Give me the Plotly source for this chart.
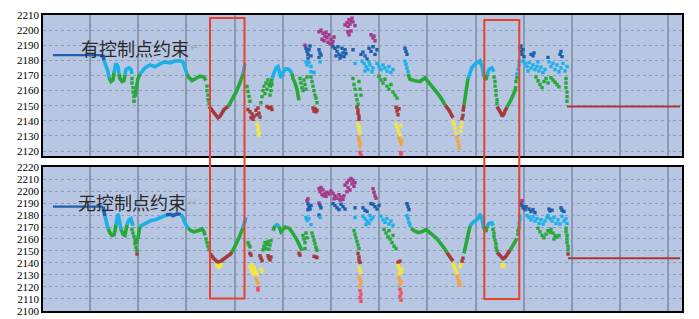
import plotly.graph_objects as go
from plotly.subplots import make_subplots

# ---------------- colour classes by elevation ----------------
BIN_EDGES = [2120, 2130, 2140, 2150, 2170, 2180, 2190]
BIN_COLORS = ["#ec4f5e", "#f2a53f", "#f5e63c", "#a63a3a",
              "#27a838", "#1ab0e8", "#1f5fae", "#a5398a"]

Y_TICKS_TOP = [2120, 2130, 2140, 2150, 2160, 2170, 2180, 2190, 2200, 2210]
Y_TICKS_BOT = [2100, 2110, 2120, 2130, 2140, 2150, 2160, 2170, 2180, 2190, 2200, 2210, 2220]

LABEL_TOP = "有控制点约束"
LABEL_BOT = "无控制点约束"

# ---------------- top panel (with control points) ----------------
TOP_START = [(10, 2183.5), (60, 2183.5)]
TOP_END = [(524, 2149.5), (637, 2149.5)]
TOP_LINES = [
    [(60, 2183.5), (61, 2180), (63, 2176.5), (65, 2172.5), (66, 2168.5), (68, 2166), (70, 2167), (71, 2172),
     (73, 2178), (75, 2176), (76, 2171), (77, 2168), (79, 2166), (81, 2166.5), (82, 2170.5), (83, 2174),
     (86, 2175), (88, 2174), (89, 2171)],
    [(92, 2156), (93, 2160), (94, 2164), (95, 2168), (97, 2171), (102, 2175), (107, 2177), (112, 2175.8),
     (117, 2177.7), (122, 2179), (127, 2178.4), (132, 2179.6), (137, 2179.8), (140, 2179), (142, 2175),
     (144, 2171), (146, 2168.6), (149, 2166.6), (153, 2168), (157, 2169.5), (161, 2169), (163, 2166.6)],
    [(166, 2149.5), (168, 2148), (170, 2146.5), (172, 2144.5), (175, 2142), (177, 2143), (179, 2145.5),
     (181, 2147.5), (183, 2148.5), (185, 2149.3), (187, 2151.5), (190, 2155), (193, 2159), (196, 2163.5),
     (198, 2167), (200, 2171), (201, 2175), (202, 2178)],
    [(227, 2162), (229, 2168), (231, 2172), (233, 2175), (235, 2176), (237, 2172), (238, 2168.5), (240, 2172),
     (243, 2174.5), (246, 2174), (249, 2171.5), (250, 2168), (252, 2165), (254, 2161), (255, 2157), (256, 2153.5)],
    [(365, 2171), (367, 2167.5), (372, 2166.5), (377, 2166), (382, 2168.5), (385, 2166), (388, 2164),
     (392, 2161), (396, 2157), (400, 2153), (402, 2150.5), (404, 2149), (406, 2147), (408, 2144.5), (410, 2142)],
    [(420, 2146), (421, 2150.5), (422, 2155), (423, 2160), (424, 2164), (425, 2168), (427, 2172), (429, 2175.5),
     (432, 2177.5), (435, 2179), (437, 2179.7), (439, 2176), (440, 2172), (441, 2169), (443, 2167),
     (444, 2170.5), (446, 2174), (449, 2175), (451, 2172.5)],
    [(454, 2149.5), (456, 2147.5), (458, 2145), (459, 2143), (461, 2144.5), (462, 2146.5), (464, 2149),
     (466, 2151), (468, 2154), (470, 2157), (472, 2160), (473, 2163)],
]
TOP_DOTS = [
    (89, 2168), (89, 2165), (90, 2162), (90, 2159), (91, 2156), (91, 2153),
    (164, 2163), (164, 2160), (165, 2157), (165, 2154), (166, 2151.5),
    (204, 2162.7), (205, 2159.4), (206, 2156.2), (207, 2153),
    (205, 2147.5), (207, 2146), (209, 2144.5), (211, 2143), (208, 2142), (210, 2141), (213, 2147), (215, 2148.5),
    (216, 2145), (217, 2142.5), (214, 2144),
    (214, 2138), (215, 2136), (215, 2134), (216, 2132), (216, 2130.5),
    (218, 2152), (219, 2156), (220, 2160), (221, 2163), (223, 2165), (225, 2167), (222, 2158), (224, 2161),
    (226, 2164), (227, 2157), (228, 2160), (229, 2164),
    (224, 2149.5), (226, 2148.5), (228, 2149), (229, 2147.5),
    (257, 2168), (258, 2165), (259, 2162), (260, 2160), (261, 2167), (262, 2164), (263, 2161), (264, 2169),
    (262, 2190), (263, 2188), (264, 2186), (265, 2184), (266, 2187), (267, 2189.5), (268, 2183), (265, 2181.5),
    (263, 2179), (264, 2177), (266, 2178.5), (268, 2176), (268, 2172.5), (271, 2172),
    (268, 2169), (269, 2166), (270, 2163), (271, 2160), (272, 2157), (273, 2155), (274, 2152),
    (270, 2148.5), (272, 2148), (274, 2147), (271, 2146.5), (273, 2146),
    (276, 2187), (277, 2185), (278, 2183.5), (276, 2182), (277, 2179),
    (276, 2199), (278, 2200), (280, 2198), (282, 2196), (279, 2194), (281, 2193), (284, 2195), (286, 2197),
    (288, 2194), (290, 2192.5), (283, 2198.5), (285, 2192), (287, 2191), (291, 2195.5), (289, 2190.5),
    (290, 2189), (292, 2188), (294, 2186), (296, 2184), (298, 2183), (300, 2185), (302, 2187), (293, 2183),
    (295, 2189), (297, 2181.5), (299, 2188), (301, 2182.5), (303, 2184.5),
    (302, 2203.5), (304, 2205), (306, 2207), (308, 2206), (310, 2205.5), (312, 2203), (305, 2202.5),
    (309, 2208), (307, 2204), (305, 2199), (306, 2197), (308, 2199.5),
    (310, 2187), (312, 2178),
    (310, 2168), (311, 2164), (312, 2161), (313, 2157), (314, 2154), (316, 2166), (317, 2161), (318, 2157), (315, 2151),
    (314, 2149), (315, 2147), (315, 2145), (316, 2143), (316, 2141),
    (315, 2138), (316, 2136), (316, 2134), (317, 2132),
    (316, 2129), (316, 2127), (317, 2125), (317, 2123),
    (317, 2119), (318, 2117.5),
    (318, 2184), (320, 2185.5), (322, 2183), (324, 2181),
    (319, 2179.5), (321, 2178), (323, 2176), (325, 2174), (327, 2177), (329, 2172.5), (322, 2173), (326, 2179), (330, 2175),
    (328, 2197), (330, 2195), (332, 2193), (331, 2196),
    (326, 2188), (328, 2186), (330, 2189), (332, 2184), (334, 2187),
    (334, 2178), (336, 2176), (338, 2174), (340, 2177), (342, 2175), (344, 2173), (346, 2176), (348, 2172), (350, 2174),
    (336, 2169.5), (338, 2167), (340, 2165), (342, 2167.5), (344, 2163), (346, 2161), (348, 2164), (350, 2159),
    (352, 2157), (354, 2155),
    (353, 2149), (354, 2146.5), (355, 2144), (356, 2148),
    (353, 2138), (354, 2136), (355, 2134), (356, 2132), (358, 2137), (357, 2131),
    (356, 2128.5), (357, 2126.5), (358, 2124.5), (359, 2127),
    (358, 2119), (358, 2118),
    (362, 2188), (363, 2186), (364, 2184),
    (362, 2179.5), (363, 2177.5), (364, 2175), (365, 2172.5),
    (410, 2139.5), (411, 2137.5), (412, 2135), (413, 2132), (414, 2129), (415, 2126.5), (416, 2124), (416, 2122),
    (418, 2136), (419, 2138.5), (418, 2133), (419, 2141.5), (420, 2143.5),
    (451, 2169), (452, 2166), (452, 2163), (453, 2160), (453, 2157), (454, 2154), (454, 2151.5),
    (473, 2166), (474, 2168.5), (474, 2171), (475, 2174), (476, 2177), (476, 2179.5),
    (477, 2188.5), (478, 2186), (479, 2184), (480, 2187), (481, 2182.5), (478, 2189.5),
    (488, 2184), (490, 2183), (491, 2185),
    (480, 2179.5), (482, 2178), (484, 2176), (486, 2178.5), (488, 2175), (490, 2177), (492, 2174), (494, 2176),
    (496, 2173), (498, 2175.5), (500, 2172), (502, 2174), (485, 2173), (495, 2179),
    (493, 2169), (495, 2166.5), (497, 2164), (499, 2162), (501, 2166), (503, 2168), (505, 2165),
    (505, 2182), (517, 2184), (518, 2186), (519, 2182.5),
    (506, 2179), (508, 2176), (510, 2178), (512, 2174), (514, 2177), (516, 2172.5), (518, 2175), (520, 2178),
    (522, 2173), (524, 2176),
    (508, 2168.5), (510, 2167), (512, 2165.5), (514, 2164), (516, 2162.5),
    (523, 2168), (523, 2165), (523, 2162), (524, 2159), (524, 2156), (524, 2153),
]

# ---------------- bottom panel (without control points) ----------------
BOT_START = [(10, 2187), (60, 2187)]
BOT_END = [(525, 2144), (637, 2144)]
BOT_LINES = [
    [(60, 2187), (61, 2183), (62, 2179), (63, 2175.5), (64, 2172), (65, 2169), (67, 2165), (69, 2163),
     (71, 2163.5), (72, 2167), (73, 2172), (74, 2178), (75, 2181), (76, 2177), (77, 2172), (78, 2168),
     (80, 2164), (82, 2163), (83, 2167), (84, 2172), (86, 2176), (88, 2177), (89, 2174), (90, 2171)],
    [(93, 2156), (95, 2161), (96, 2166), (97, 2170.5), (100, 2172), (104, 2174), (108, 2175.5), (112, 2176),
     (117, 2177.5), (120, 2179), (123, 2179.8), (125, 2180.5), (128, 2180.5), (130, 2179.5), (134, 2181),
     (138, 2180.5), (140, 2178), (141, 2175), (143, 2172), (145, 2169), (148, 2167), (151, 2166),
     (154, 2166.5), (157, 2167.5), (159, 2168.5), (161, 2166), (162, 2163)],
    [(167, 2148), (169, 2145.5), (171, 2143.5), (173, 2142), (175, 2140.5), (177, 2141), (179, 2142.5),
     (181, 2143.5), (183, 2144.5), (185, 2146), (187, 2147), (189, 2149), (190, 2151), (192, 2154),
     (194, 2157.5), (196, 2161), (198, 2164.5), (199, 2167), (200, 2169.5), (201, 2172), (202, 2175), (203, 2178)],
    [(230, 2167), (232, 2171), (234, 2172), (236, 2170.5), (238, 2166), (240, 2168), (242, 2170), (244, 2169.5),
     (246, 2169), (248, 2167), (250, 2165), (252, 2162), (254, 2159), (256, 2156), (258, 2153), (259, 2150.5)],
    [(368, 2169), (371, 2167), (375, 2165.5), (379, 2166), (383, 2168), (386, 2166), (390, 2163.5), (393, 2161),
     (396, 2158), (399, 2155), (402, 2151.5), (404, 2148.5), (406, 2146), (408, 2143.5), (410, 2141.5)],
    [(421, 2148), (422, 2152), (423, 2156), (424, 2160), (425, 2164), (426, 2168), (427, 2171), (430, 2174),
     (433, 2175.5), (436, 2178), (437, 2181), (439, 2177), (440, 2172), (441, 2168.5), (443, 2166),
     (444, 2170.5), (446, 2173), (449, 2173.5), (450, 2171)],
    [(454, 2149), (456, 2147), (458, 2145), (460, 2143.5), (462, 2144.5), (464, 2146.5), (466, 2148.5),
     (467, 2150.5), (469, 2153.5), (471, 2156), (473, 2158), (474, 2160.5)],
]
BOT_DOTS = [
    (89, 2168), (90, 2165), (91, 2162), (92, 2159), (92, 2156), (93, 2153), (94, 2150.5), (94, 2147.5),
    (163, 2160), (164, 2157), (165, 2154), (166, 2151),
    (174, 2138), (175, 2137), (176, 2136.5), (177, 2137.5), (178, 2138.5),
    (205, 2157), (206, 2155), (207, 2153.5), (207, 2148), (208, 2146.5),
    (207, 2137), (208, 2135), (209, 2133), (210, 2131), (211, 2136), (212, 2134), (213, 2132.5), (214, 2130.5),
    (209, 2138.5), (212, 2131.5),
    (218, 2135), (219, 2133),
    (213, 2127), (214, 2125), (215, 2123), (215, 2119), (215, 2117.5),
    (217, 2146), (218, 2144), (219, 2142),
    (225, 2146), (226, 2144), (227, 2142.5), (228, 2145),
    (220, 2151), (221, 2154), (222, 2157), (223, 2152), (224, 2155.5), (225, 2158), (226, 2151.5), (227, 2155), (228, 2158.5),
    (256, 2148), (257, 2146.5),
    (260, 2163), (261, 2160), (262, 2157), (263, 2165), (264, 2161), (262, 2152),
    (264, 2192), (265, 2189.5), (266, 2187), (267, 2185), (268, 2188), (265, 2184.5), (265, 2193.5),
    (263, 2178), (264, 2175.5), (266, 2177), (268, 2172),
    (269, 2165), (270, 2162), (271, 2159), (272, 2156), (273, 2153), (274, 2150.5),
    (271, 2145.5), (273, 2145), (274, 2144.5),
    (276, 2190), (277, 2188), (278, 2186), (276, 2180), (277, 2178),
    (276, 2202), (278, 2203), (280, 2201), (282, 2198), (279, 2197), (281, 2196), (284, 2199), (286, 2197.5),
    (277, 2199.5), (283, 2195.5),
    (288, 2200), (290, 2198), (292, 2196), (294, 2194), (296, 2197), (298, 2195), (300, 2193), (291, 2193.5),
    (297, 2192.5), (301, 2196),
    (290, 2189.5), (292, 2188), (294, 2186), (296, 2184.5), (298, 2189), (300, 2187), (302, 2185),
    (302, 2205), (304, 2207), (306, 2209), (308, 2210.5), (310, 2209), (312, 2207), (305, 2203), (309, 2206),
    (307, 2201), (311, 2204), (304, 2199.5),
    (312, 2178), (312, 2186),
    (311, 2167), (312, 2164), (313, 2161), (314, 2158), (315, 2155), (316, 2152),
    (315, 2148), (316, 2145), (316, 2142.5), (317, 2140.5),
    (316, 2136), (317, 2134), (318, 2132),
    (316, 2128), (317, 2126), (318, 2124), (317, 2121),
    (317, 2117), (318, 2114), (317, 2111), (318, 2108),
    (320, 2186), (322, 2184), (324, 2183),
    (320, 2179), (322, 2177), (324, 2175), (326, 2173), (328, 2176), (330, 2178), (323, 2172), (327, 2179.5),
    (330, 2202), (331, 2199), (332, 2196), (333, 2194),
    (328, 2189.5), (330, 2189), (332, 2187), (334, 2185), (336, 2188),
    (338, 2179), (340, 2176), (342, 2174), (344, 2177), (346, 2172.5), (348, 2175), (350, 2171.5),
    (341, 2168), (343, 2165), (345, 2162), (347, 2160), (349, 2157), (351, 2154), (353, 2152), (346, 2167), (350, 2163),
    (355, 2140.5), (357, 2141.5),
    (355, 2138), (356, 2136), (357, 2134), (358, 2132), (356, 2130.5), (359, 2135),
    (356, 2128), (357, 2126), (358, 2124), (357, 2122),
    (357, 2118), (358, 2115), (357, 2112), (358, 2109),
    (364, 2189.5), (365, 2187), (366, 2184.5),
    (364, 2179.5), (365, 2177), (366, 2174), (367, 2171.5),
    (410, 2139), (411, 2137), (412, 2135), (413, 2133), (414, 2131), (417, 2137), (418, 2139),
    (414, 2129), (415, 2127), (416, 2125), (416, 2123), (417, 2121.5), (419, 2141.5), (420, 2144),
    (450, 2168), (451, 2165), (451, 2162), (452, 2159), (453, 2156), (453, 2153), (454, 2150.5),
    (459, 2138.5), (460, 2137), (461, 2138),
    (475, 2164), (475, 2167), (476, 2169.5), (476, 2173), (477, 2176), (477, 2179),
    (478, 2189.5), (479, 2188), (480, 2186), (482, 2184.5), (483, 2187), (479, 2192),
    (486, 2185), (488, 2183), (490, 2184.5), (492, 2182),
    (484, 2179.5), (486, 2178), (488, 2176), (490, 2178.5), (492, 2175), (494, 2177), (496, 2173), (498, 2176),
    (500, 2172.5), (502, 2175), (504, 2178),
    (495, 2169), (497, 2166), (499, 2163), (501, 2161), (503, 2164), (505, 2167), (507, 2165.5),
    (506, 2185), (507, 2183.5), (509, 2184), (518, 2186), (519, 2184), (521, 2183),
    (505, 2179.5), (507, 2177), (509, 2175), (511, 2178), (513, 2173), (515, 2176), (517, 2172.5), (519, 2179),
    (521, 2175), (523, 2177), (524, 2173),
    (508, 2168), (510, 2165), (512, 2163), (514, 2161.5), (516, 2163), (511, 2160),
    (523, 2169), (523, 2166), (524, 2163), (524, 2160), (524, 2157), (525, 2154), (525, 2151), (525, 2147.5),
]

# highlight boxes (distance units along x, spanning both panels)
BOX_X = [(167, 201.5), (441.3, 476.3)]
BOX_Y = [(0.0422, 0.9899), (0.0405, 0.9831)]


def color_of(e):
    i = 0
    for edge in BIN_EDGES:
        if e >= edge:
            i += 1
    return BIN_COLORS[i]


fig = make_subplots(rows=2, cols=1)


def add_lines(pieces, row, width):
    groups = {}
    for piece in pieces:
        run = [piece[0]]
        run_c = None
        for p0, p1 in zip(piece[:-1], piece[1:]):
            c = color_of((p0[1] + p1[1]) / 2)
            if run_c is None or c == run_c:
                run.append(p1)
                run_c = c
            else:
                groups.setdefault(run_c, []).append(run)
                run = [p0, p1]
                run_c = c
        groups.setdefault(run_c, []).append(run)
    for c, runs in groups.items():
        xs, ys = [], []
        for r in runs:
            xs += [p[0] for p in r] + [None]
            ys += [p[1] for p in r] + [None]
        fig.add_trace(go.Scatter(x=xs, y=ys, mode="lines",
                                 line=dict(color=c, width=width),
                                 hoverinfo="skip", showlegend=False), row=row, col=1)


def add_dots(dots, row):
    fig.add_trace(go.Scatter(x=[p[0] for p in dots], y=[p[1] for p in dots], mode="markers",
                             marker=dict(symbol="square", size=3.4,
                                         color=[color_of(p[1]) for p in dots], line=dict(width=0)),
                             hoverinfo="skip", showlegend=False), row=row, col=1)


for row, start, end, lines, dots in [(1, TOP_START, TOP_END, TOP_LINES, TOP_DOTS),
                                      (2, BOT_START, BOT_END, BOT_LINES, BOT_DOTS)]:
    add_lines([start], row, 2.2)
    add_lines([end], row, 2.0)
    add_lines(lines, row, 3.6)
    add_dots(dots, row)

axis_common = dict(showline=True, linecolor="black", linewidth=1.5, mirror=True, zeroline=False,
                   automargin=False)
for ax in ["xaxis", "xaxis2"]:
    fig.layout[ax].update(range=[0, 639], tick0=47, dtick=48.2, showticklabels=False, ticks="",
                          showgrid=True, gridcolor="#8a98b2", gridwidth=1.6, **axis_common)
fig.layout.xaxis2.matches = "x"

yfont = dict(family="Liberation Serif", size=11, color="black")
fig.update_layout(
    yaxis=dict(domain=[0.522, 1.0], range=[2116.4, 2210.05], tickvals=Y_TICKS_TOP,
               ticktext=[str(v) for v in Y_TICKS_TOP], tickfont=yfont, ticks="",
               ticklabeloverflow="allow",
               showgrid=True, gridcolor="#8f9cb5", gridwidth=1, griddash="dot", **axis_common),
    yaxis2=dict(domain=[0.0, 0.4865], range=[2099.9, 2220.1], tickvals=Y_TICKS_BOT,
                ticktext=[str(v) for v in Y_TICKS_BOT], tickfont=yfont, ticks="",
                ticklabeloverflow="allow",
                showgrid=True, gridcolor="#8f9cb5", gridwidth=1, griddash="dot", **axis_common),
    plot_bgcolor="#b7c7e3",
    paper_bgcolor="white",
    width=691, height=311,
    margin=dict(l=35, r=17, t=7, b=8),
    showlegend=False,
)

label_font = dict(family="Noto Sans CJK SC", size=18, color="#2a2a2a")
fig.add_annotation(x=92, y=2188, xref="x", yref="y", text=LABEL_TOP, showarrow=False, font=label_font)
fig.add_annotation(x=89, y=2190.5, xref="x2", yref="y2", text=LABEL_BOT, showarrow=False, font=label_font)
fig.add_annotation(x=151, y=2189.5, xref="x", yref="y", text="↵", showarrow=False,
                   font=dict(size=11, color="#a8a8a8"))
fig.add_annotation(x=149, y=2191.5, xref="x2", yref="y2", text="↵", showarrow=False,
                   font=dict(size=11, color="#a8a8a8"))

for (x0, x1), (y0, y1) in zip(BOX_X, BOX_Y):
    fig.add_shape(type="rect", xref="x", yref="paper", x0=x0, x1=x1, y0=y0, y1=y1,
                  line=dict(color="#e8422e", width=2), fillcolor="rgba(0,0,0,0)")

fig.write_html("out.html")
